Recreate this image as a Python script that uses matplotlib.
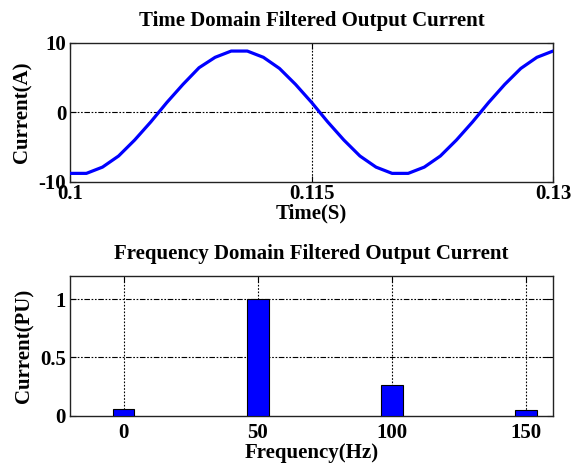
import matplotlib
matplotlib.use('Agg')
import matplotlib.pyplot as plt

# dados
tempo = [0.100, 0.101, 0.102, 0.103, 0.104, 0.105, 0.106, 0.107, 0.108, 0.109,
         0.110, 0.111, 0.112, 0.113, 0.114, 0.115, 0.116, 0.117, 0.118, 0.119,
         0.120, 0.121, 0.122, 0.123, 0.124, 0.125, 0.126, 0.127, 0.128, 0.129,
         0.130]
corrente = [-8.8, -8.8, -7.9, -6.3, -4.0, -1.4, 1.4, 4.0, 6.4, 7.9,
            8.8, 8.8, 7.9, 6.3, 4.0, 1.4, -1.4, -4.0, -6.3, -7.9,
            -8.8, -8.8, -7.9, -6.3, -4.0, -1.4, 1.4, 4.0, 6.3, 7.9,
            8.8]

frequencias = [0, 50, 100, 150]
amplitude_pu = [0.057, 1.0, 0.26, 0.045]

plt.rcParams['font.family'] = 'Liberation Serif'
plt.rcParams['font.weight'] = 'bold'
plt.rcParams['axes.labelweight'] = 'bold'
plt.rcParams['axes.titleweight'] = 'bold'
plt.rcParams['axes.unicode_minus'] = False

fs = 15
pontilhado = (0, (1.5, 1.5))
traco_ponto = (0, (5, 1.5, 1.5, 1.5, 1.5, 1.5))

fig = plt.figure(figsize=(5.74, 4.71), dpi=100)

# grafico no dominio do tempo
ax1 = fig.add_axes([0.1225, 0.6142, 0.8409, 0.2951])
ax1.plot(tempo, corrente, color='#0000ff', linewidth=2.3, zorder=3)
ax1.set_xlim(0.1, 0.13)
ax1.set_ylim(-10, 10)
ax1.set_xticks([0.1, 0.115, 0.13])
ax1.set_xticklabels(['0.1', '0.115', '0.13'])
ax1.set_yticks([-10, 0, 10])
ax1.axvline(0.115, color='black', linestyle=pontilhado, linewidth=0.8, zorder=1)
ax1.axhline(0, color='black', linestyle=traco_ponto, linewidth=0.8, zorder=1)
ax1.set_title('Time Domain Filtered Output Current', fontsize=fs, pad=12)
ax1.set_xlabel('Time(S)', fontsize=fs, labelpad=-1)
ax1.set_ylabel('Current(A)', fontsize=fs, labelpad=4)

# grafico no dominio da frequencia
ax2 = fig.add_axes([0.1220, 0.1174, 0.8415, 0.2966])
ax2.bar(frequencias, amplitude_pu, width=8, color='#0000ff', edgecolor='black',
        linewidth=0.8, zorder=3)
ax2.set_xlim(-20, 160)
ax2.set_ylim(0, 1.2)
ax2.set_xticks(frequencias)
ax2.set_yticks([0, 0.5, 1])
ax2.set_yticklabels(['0', '0.5', '1'])
for f in frequencias:
    ax2.axvline(f, color='black', linestyle=pontilhado, linewidth=0.8, zorder=1)
for v in [0.5, 1]:
    ax2.axhline(v, color='black', linestyle=traco_ponto, linewidth=0.8, zorder=1)
ax2.set_title('Frequency Domain Filtered Output Current', fontsize=fs, pad=12)
ax2.set_xlabel('Frequency(Hz)', fontsize=fs, labelpad=0)
ax2.set_ylabel('Current(PU)', fontsize=fs, labelpad=4)

for ax in [ax1, ax2]:
    ax.tick_params(direction='in', top=True, right=True, labelsize=fs, pad=3,
                   length=4, width=0.8)
    for s in ax.spines.values():
        s.set_linewidth(1.0)
        s.set_color('#222222')
ax1.tick_params(axis='x', pad=2)
ax2.tick_params(axis='x', pad=5)

fig.savefig('out.png', dpi=100)
